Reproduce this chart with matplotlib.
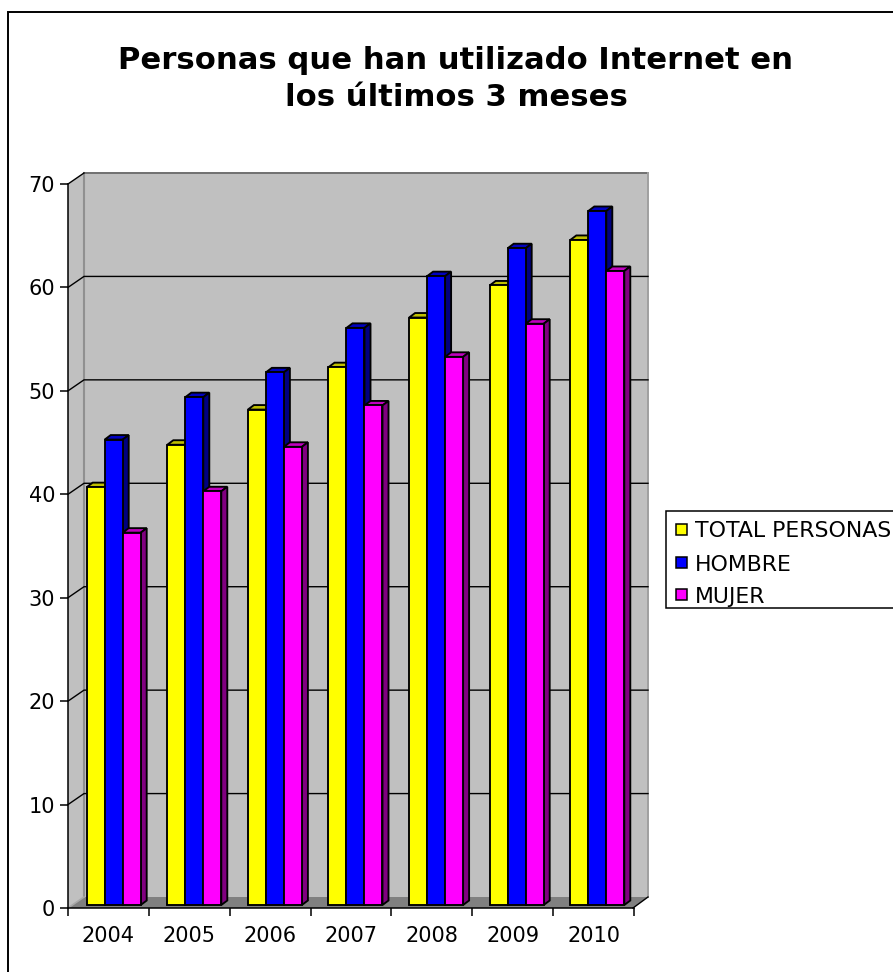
import matplotlib
matplotlib.use("Agg")
import matplotlib.pyplot as plt
from matplotlib.patches import Polygon, Rectangle

years = ["2004", "2005", "2006", "2007", "2008", "2009", "2010"]
total = [40.4, 44.5, 47.9, 52.0, 56.8, 59.9, 64.3]
hombre = [45.0, 49.1, 51.5, 55.8, 60.8, 63.5, 67.1]
mujer = [36.0, 40.0, 44.3, 48.3, 53.0, 56.2, 61.3]
series_names = ["TOTAL PERSONAS", "HOMBRE", "MUJER"]
yticks = [0, 10, 20, 30, 40, 50, 60, 70]
title_lines = ["Personas que han utilizado Internet en", "los últimos 3 meses"]

W, H = 893, 972
plt.rcParams["font.family"] = ["DejaVu Sans"]

fig = plt.figure(figsize=(W / 100, H / 100), dpi=100)
fig.patch.set_facecolor("white")
x0, x1, y0, y1 = 68, 634, 908, 184
ax = fig.add_axes([x0 / W, 1 - y0 / H, (x1 - x0) / W, (y0 - y1) / H])
ax.set_xlim(0, 7)
ax.set_ylim(0, 70)
ax.patch.set_visible(False)
for name, s in ax.spines.items():
    s.set_visible(name in ("left", "bottom"))
    s.set_linewidth(1.1)
    s.set_zorder(1.5)

px = 7 / (x1 - x0)      # data units per pixel, x
py = 70 / (y0 - y1)     # data units per pixel, y
wall_dx, wall_dy = 16 * px, 11 * py
wall_r = 7 - 2 * px + wall_dx   # right end of the back wall

# Frame of the chart area (runs past the right and bottom of the image)
fig.add_artist(Rectangle((8 / W, -20 / H), (W + 20) / W, (H + 20 - 12) / H,
                         transform=fig.transFigure, fill=False,
                         edgecolor="black", linewidth=1.4))

gray = "#808080"
# back wall
ax.add_patch(Rectangle((wall_dx, wall_dy), wall_r - wall_dx, 70, facecolor="#C0C0C0",
                       edgecolor="none", zorder=0.5, clip_on=False))
# left wall
ax.add_patch(Polygon([(0, 0), (wall_dx, wall_dy), (wall_dx, 70 + wall_dy), (0, 70)],
                     facecolor="#C0C0C0", edgecolor="none", zorder=0.5, clip_on=False))
# floor
ax.add_patch(Polygon([(0, 0), (wall_dx, wall_dy), (wall_r, wall_dy), (7 - 1 * px, 0)],
                     facecolor=gray, edgecolor="none", zorder=0.6, clip_on=False))
# wall edges
ax.plot([wall_dx, wall_dx], [wall_dy, 70 + wall_dy], color="#909090", lw=1.5, zorder=0.7, clip_on=False)
ax.plot([wall_dx, wall_r], [70 + wall_dy] * 2, color="#707070", lw=1.4, zorder=0.7, clip_on=False)
ax.plot([wall_r, wall_r], [wall_dy, 70 + wall_dy], color="#A0A0A0", lw=1.4, zorder=0.7, clip_on=False)
ax.plot([0, wall_dx], [0, wall_dy], color="#A8A8A8", lw=1.2, zorder=0.7, clip_on=False)
ax.plot([7 - 1 * px, wall_r], [0, wall_dy], color="black", lw=1.0, zorder=0.7, clip_on=False)
# grid lines on the walls
for v in yticks[1:-1]:
    ax.plot([0, wall_dx, wall_r], [v, v + wall_dy, v + wall_dy],
            color="black", lw=1.0, zorder=0.8, clip_on=False)
ax.plot([0, wall_dx], [70, 70 + wall_dy], color="black", lw=1.0, zorder=0.8, clip_on=False)

# bars
bar_w = 18 * px
dx, dy = 6 * px, 4.5 * py
base = 3 * py
faces = [("#FFFF00", "#C0C000", "#808000"),
         ("#0000FF", "#0000C0", "#000080"),
         ("#FF00FF", "#C000C0", "#800080")]
series = [total, hombre, mujer]
start = (86.7 - x0) * px
pitch = 80.6 * px
LW = 1.35
for i, year in enumerate(years):
    for k, vals in enumerate(series):
        zo = 2 + i + k * 0.1
        left = start + i * pitch + k * bar_w
        v = vals[i] + base
        r = left + bar_w
        ax.add_patch(Polygon([(left, v), (left + dx, v + dy), (r + dx, v + dy), (r, v)],
                             facecolor=faces[k][1], edgecolor="black", linewidth=LW, zorder=zo))
        ax.add_patch(Polygon([(r, base), (r + dx, base + dy), (r + dx, v + dy), (r, v)],
                             facecolor=faces[k][2], edgecolor="black", linewidth=LW, zorder=zo))
        ax.bar(left, vals[i], width=bar_w, bottom=base, align="edge",
               color=faces[k][0], edgecolor="black", linewidth=LW, zorder=zo + 0.03)

ax.set_xticks(range(8))
ax.set_xticklabels([])
ax.set_yticks(yticks)
ax.tick_params(axis="both", length=5.8, width=1.1, color="black", pad=3.5)
ax.tick_params(axis="y", labelsize=15)
for i, year in enumerate(years):
    ax.annotate(year, (i + 0.5, 0), xytext=(0, -20), textcoords="offset points",
                ha="center", va="center", fontsize=15, annotation_clip=False)

fig.text(456 / W, 1 - 60 / H, title_lines[0], ha="center", va="center",
         fontsize=22.1, fontweight="bold")
fig.text(456 / W, 1 - 98 / H, title_lines[1], ha="center", va="center",
         fontsize=22.1, fontweight="bold")

# legend
fig.add_artist(Rectangle((666 / W, 1 - 608 / H), 260 / W, 97.5 / H, transform=fig.transFigure,
                         facecolor="white", edgecolor="black", linewidth=1.1))
for name, col, yc, yb in zip(series_names, faces, [529, 562.5, 594], [537, 571, 603]):
    fig.add_artist(Rectangle((675.5 / W, 1 - (yc + 5.5) / H), 11 / W, 11 / H,
                             transform=fig.transFigure, facecolor=col[0],
                             edgecolor="black", linewidth=1.1))
    fig.text(695 / W, 1 - yb / H, name, ha="left", va="baseline", fontsize=15.8)

fig.savefig("out.png", dpi=100)
